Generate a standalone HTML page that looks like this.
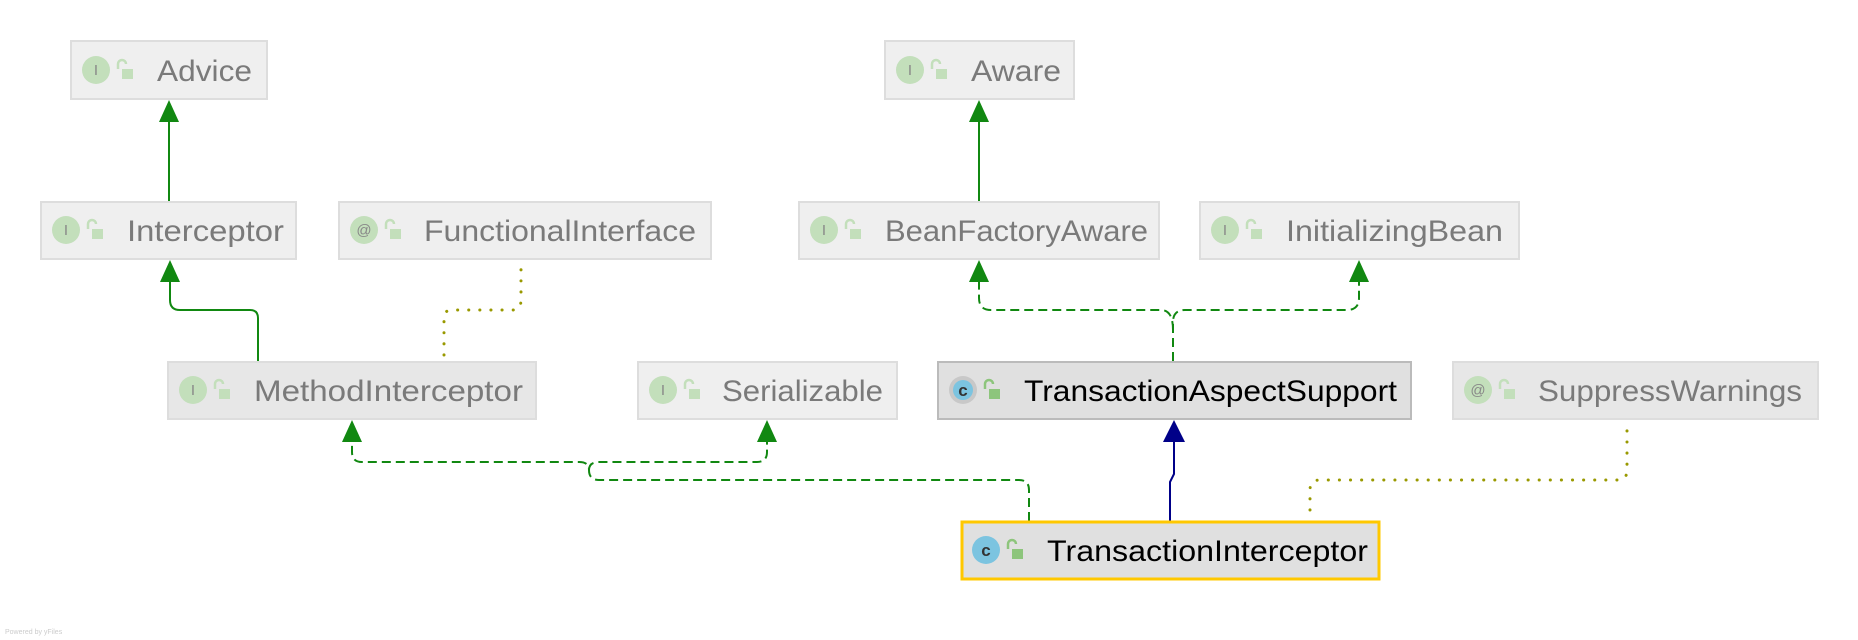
<!DOCTYPE html>
<html><head><meta charset="utf-8"><style>
html,body{margin:0;padding:0;background:#fff;width:1858px;height:640px;overflow:hidden}
text{font-family:"Liberation Sans",sans-serif}
</style></head><body>
<svg width="1858" height="640" viewBox="0 0 1858 640" xmlns="http://www.w3.org/2000/svg">
<defs>
<g id="lockg"><path d="M-6,-3 v-5 a4,4 0 0 1 8,0" fill="none" stroke="#c3dfbb" stroke-width="2.5"/><rect x="-2" y="-3" width="11" height="10" fill="#c3dfbb"/></g>
<g id="lockc"><path d="M-6,-3 v-5 a4,4 0 0 1 8,0" fill="none" stroke="#8dc57c" stroke-width="2.5"/><rect x="-2" y="-3" width="11" height="10" fill="#8dc57c"/></g>
</defs>

<g fill="none" stroke-width="2">
<line x1="169" y1="201" x2="169" y2="118" stroke="#118811"/>
<line x1="979" y1="201" x2="979" y2="118" stroke="#118811"/>
<path d="M258,361 V318 Q258,310 250,310 H180 Q170,310 170,300 V278" stroke="#118811"/>
<path d="M444,355 V318 Q444,310 452,310 H512 Q521,310 521,300 V267" stroke="#999900" stroke-width="3" stroke-dasharray="0.1 11" stroke-linecap="round"/>
<path d="M1173,361 V322 Q1173,310 1185,310 H1347 Q1359,310 1359,298 V278" stroke="#118811" stroke-dasharray="9 5"/>
<path d="M1173,330 Q1173,310 1161,310 H991 Q979,310 979,298 V278" stroke="#118811" stroke-dasharray="9 5"/>
<path d="M1029,521 V490 Q1029,480 1019,480 H599 Q589,480 589,470 Q589,462 579,462 H362 Q352,462 352,452 V438" stroke="#118811" stroke-dasharray="9 5"/>
<path d="M589,470 Q589,462 599,462 H757 Q767,462 767,452 V438" stroke="#118811" stroke-dasharray="9 5"/>
<path d="M1170,521 V482 L1174,474 V438" stroke="#000088"/>
<path d="M1310,510 V490 Q1310,480 1320,480 H1618 Q1627,480 1627,470 V428" stroke="#999900" stroke-width="3" stroke-dasharray="0.1 11" stroke-linecap="round"/>
</g>
<g fill="#118811">
<polygon points="169,100 159,122 179,122"/>
<polygon points="979,100 969,122 989,122"/>
<polygon points="170,260 160,282 180,282"/>
<polygon points="979,260 969,282 989,282"/>
<polygon points="1359,260 1349,282 1369,282"/>
<polygon points="352,420 342,442 362,442"/>
<polygon points="767,420 757,442 777,442"/>
</g>
<polygon points="1174,420 1163,442 1185,442" fill="#000088"/>

<g stroke-width="2">
<rect x="71" y="41" width="196" height="58" fill="#efefef" stroke="#dddddd"/>
<rect x="885" y="41" width="189" height="58" fill="#efefef" stroke="#dddddd"/>
<rect x="41" y="202" width="255" height="57" fill="#efefef" stroke="#dddddd"/>
<rect x="339" y="202" width="372" height="57" fill="#efefef" stroke="#dddddd"/>
<rect x="799" y="202" width="360" height="57" fill="#efefef" stroke="#dddddd"/>
<rect x="1200" y="202" width="319" height="57" fill="#efefef" stroke="#dddddd"/>
<rect x="168" y="362" width="368" height="57" fill="#e7e7e7" stroke="#dddddd"/>
<rect x="638" y="362" width="259" height="57" fill="#efefef" stroke="#dddddd"/>
<rect x="938" y="362" width="473" height="57" fill="#e0e0e0" stroke="#bbbbbb"/>
<rect x="1453" y="362" width="365" height="57" fill="#e7e7e7" stroke="#dddddd"/>
<rect x="962" y="522" width="417" height="57" fill="#e0e0e0" stroke="#ffc800" stroke-width="3"/>
</g>

<g fill="#c3dfbb">
<circle cx="96" cy="70" r="14"/><circle cx="910" cy="70" r="14"/>
<circle cx="66" cy="230" r="14"/><circle cx="364" cy="230" r="14"/>
<circle cx="824" cy="230" r="14"/><circle cx="1225" cy="230" r="14"/>
<circle cx="193" cy="390" r="14"/><circle cx="663" cy="390" r="14"/>
<circle cx="1478" cy="390" r="14"/>
</g>
<circle cx="963" cy="390" r="14" fill="#c8c8c8"/>
<circle cx="963" cy="390" r="10" fill="#7cc4e0"/>
<circle cx="986" cy="550" r="14" fill="#7cc4e0"/>
<g font-family="Liberation Mono,monospace" font-size="15" fill="#888" text-anchor="middle">
<text x="96" y="75">I</text><text x="910" y="75">I</text><text x="66" y="235">I</text>
<text x="364" y="235">@</text><text x="824" y="235">I</text><text x="1225" y="235">I</text>
<text x="193" y="395">I</text><text x="663" y="395">I</text><text x="1478" y="395">@</text>
</g>
<g font-family="Liberation Sans,sans-serif" font-size="17" font-weight="bold" fill="#333" text-anchor="middle">
<text x="963" y="396">c</text><text x="986" y="556">c</text>
</g>
<use href="#lockg" x="124" y="72"/><use href="#lockg" x="938" y="72"/>
<use href="#lockg" x="94" y="232"/><use href="#lockg" x="392" y="232"/>
<use href="#lockg" x="852" y="232"/><use href="#lockg" x="1253" y="232"/>
<use href="#lockg" x="221" y="392"/><use href="#lockg" x="691" y="392"/>
<use href="#lockg" x="1506" y="392"/>
<use href="#lockc" x="991" y="392"/><use href="#lockc" x="1014" y="552"/>

<g font-size="30" fill="#7a7a7a">
<text x="157" y="81" textLength="95" lengthAdjust="spacingAndGlyphs">Advice</text>
<text x="971" y="81" textLength="90" lengthAdjust="spacingAndGlyphs">Aware</text>
<text x="127" y="241" textLength="157" lengthAdjust="spacingAndGlyphs">Interceptor</text>
<text x="424" y="241" textLength="272" lengthAdjust="spacingAndGlyphs">FunctionalInterface</text>
<text x="885" y="241" textLength="263" lengthAdjust="spacingAndGlyphs">BeanFactoryAware</text>
<text x="1286" y="241" textLength="217" lengthAdjust="spacingAndGlyphs">InitializingBean</text>
<text x="254" y="401" textLength="269" lengthAdjust="spacingAndGlyphs">MethodInterceptor</text>
<text x="722" y="401" textLength="161" lengthAdjust="spacingAndGlyphs">Serializable</text>
<text x="1538" y="401" textLength="264" lengthAdjust="spacingAndGlyphs">SuppressWarnings</text>
</g>
<g font-size="30" fill="#000">
<text x="1024" y="401" textLength="373" lengthAdjust="spacingAndGlyphs">TransactionAspectSupport</text>
<text x="1047" y="561" textLength="321" lengthAdjust="spacingAndGlyphs">TransactionInterceptor</text>
</g>
<text x="5" y="634" font-size="7" fill="#cccccc">Powered by yFiles</text>
</svg>
</body></html>
